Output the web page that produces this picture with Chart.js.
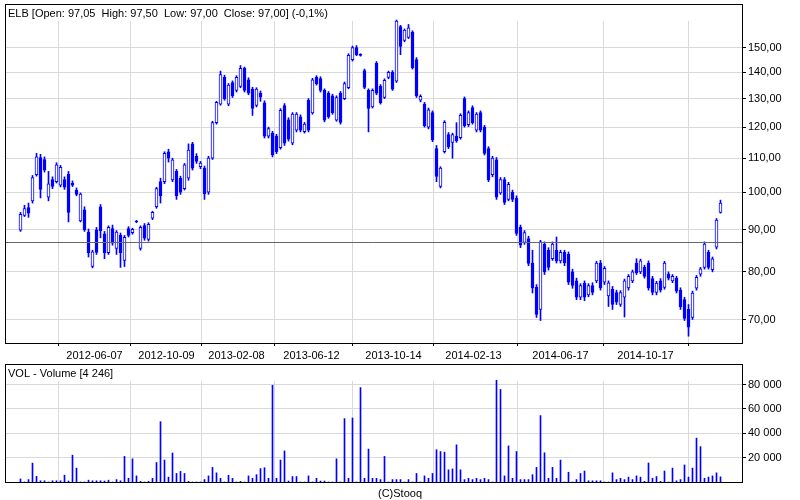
<!DOCTYPE html>
<html>
<head>
<meta charset="utf-8">
<script src="https://cdn.jsdelivr.net/npm/chart.js@4.4.1/dist/chart.umd.min.js"></script>
<style>
  body { margin: 0; background: #fff; }
  #wrap { position: relative; width: 800px; height: 500px; }
  #wrap canvas { position: absolute; left: 0; }
</style>
</head>
<body>
<div id="wrap">
  <canvas id="price" width="800" height="360" style="top:0"></canvas>
  <canvas id="volume" width="800" height="140" style="top:360px"></canvas>
</div>
<script>
// ELB daily candles (one candle ~ every 4 px)
const opens = [
  89.9, 93.7, 95.8, 97.6, 105.0, 110.2, 109.6, 98.6, 103.6, 103.0,
  102.0, 103.6, 105.2, 102.6, 100.6, 92.3, 95.2, 89.4, 81.2, 90.0,
  96.0, 89.0, 84.4, 90.3, 85.4, 88.6, 82.6, 90.3, 89.3, 92.2,
  85.4, 91.1, 87.6, 93.0, 96.0, 103.0, 103.0, 112.0, 103.5, 106.0,
  104.0, 101.0, 104.0, 114.5, 110.6, 107.4, 107.0, 100.0, 110.0, 121.5,
  128.0, 138.0, 128.0, 136.0, 133.0, 134.5, 141.5, 137.0, 133.5, 127.5,
  132.0, 128.5, 117.0, 118.0, 117.0, 113.3, 127.5, 122.5, 114.7, 119.0,
  123.5, 118.5, 129.4, 124.9, 138.0, 137.5, 133.0, 132.0, 131.0, 122.4,
  132.0, 130.0, 134.0, 145.0, 150.0, 147.0, 140.6, 133.0, 127.0, 143.5,
  134.5, 130.4, 137.9, 140.0, 136.5, 159.0, 153.0, 154.3, 156.5, 145.0,
  129.4, 128.0, 120.0, 125.0, 113.0, 101.6, 112.0, 117.5, 115.0, 117.0,
  116.5, 130.0, 120.8, 126.8, 119.0, 125.0, 120.0, 113.0, 105.0, 109.5,
  99.8, 103.6, 98.0, 100.0, 98.3, 90.6, 86.9, 87.8, 82.0, 76.6,
  72.0, 86.5, 85.0, 83.0, 85.0, 82.5, 84.5, 84.0, 80.0, 78.0,
  74.5, 77.5, 75.0, 77.0, 78.0, 82.0, 77.7, 74.8, 76.2, 75.5,
  73.0, 74.5, 76.5, 78.0, 82.0, 80.0, 81.0, 82.0, 78.5, 75.5,
  78.0, 76.6, 79.5, 78.0, 78.6, 76.0, 74.0, 72.0, 70.4, 76.4,
  79.5, 81.0, 84.5, 80.5, 85.7, 94.5
];
const highs = [
  94.5, 96.4, 97.0, 104.8, 111.5, 111.2, 110.4, 106.0, 104.4, 108.6,
  107.8, 104.4, 106.0, 103.2, 101.2, 99.8, 96.0, 90.2, 85.0, 90.6,
  96.6, 89.6, 91.0, 91.2, 89.8, 89.2, 88.6, 90.8, 90.4, 92.4,
  91.0, 91.6, 91.8, 94.8, 101.4, 104.0, 112.0, 112.8, 110.0, 106.6,
  104.6, 108.4, 114.5, 115.0, 111.4, 109.0, 107.6, 110.6, 122.0, 129.0,
  140.4, 138.8, 135.6, 136.6, 138.6, 142.6, 142.0, 137.8, 134.2, 134.0,
  132.8, 129.2, 120.0, 118.6, 117.6, 126.4, 128.2, 123.2, 125.0, 125.0,
  124.2, 121.6, 130.0, 137.6, 138.6, 138.2, 133.6, 132.6, 131.6, 131.0,
  132.6, 136.2, 147.4, 150.6, 150.8, 147.4, 141.2, 133.6, 133.6, 144.2,
  135.2, 137.4, 140.4, 140.6, 162.0, 159.6, 158.0, 160.0, 157.2, 145.8,
  131.4, 128.6, 126.6, 125.6, 114.0, 107.4, 122.2, 118.2, 118.0, 121.5,
  124.6, 130.6, 125.6, 127.4, 125.0, 125.6, 120.6, 113.6, 110.6, 110.2,
  104.2, 104.2, 102.8, 100.6, 99.0, 91.2, 89.8, 88.4, 85.0, 77.2,
  87.4, 87.0, 85.6, 87.0, 88.2, 85.0, 85.0, 84.6, 80.6, 78.6,
  77.4, 78.0, 77.4, 77.6, 82.4, 82.6, 81.2, 78.0, 76.8, 76.0,
  75.9, 78.4, 79.4, 80.4, 83.0, 82.9, 81.5, 82.5, 79.0, 77.9,
  78.5, 82.4, 80.0, 79.4, 79.0, 76.5, 74.5, 73.0, 75.8, 79.2,
  81.0, 87.0, 85.0, 83.4, 92.9, 97.8
];
const lows = [
  89.6, 93.4, 93.2, 97.0, 104.6, 98.4, 105.8, 97.6, 101.0, 102.6,
  101.5, 100.8, 92.0, 101.6, 99.0, 92.0, 89.6, 83.4, 80.9, 84.0,
  88.0, 83.0, 84.0, 86.2, 84.0, 81.0, 81.2, 88.2, 88.9, 91.8,
  85.0, 87.4, 87.2, 92.6, 95.6, 97.0, 102.4, 108.8, 103.0, 98.0,
  99.4, 100.6, 103.4, 106.4, 108.4, 106.8, 98.0, 99.4, 109.6, 121.0,
  127.6, 129.4, 127.4, 130.4, 132.4, 134.0, 132.4, 131.4, 124.0, 127.0,
  129.0, 116.4, 116.4, 110.4, 111.4, 112.8, 114.0, 115.4, 114.2, 118.4,
  118.4, 118.0, 118.4, 124.4, 135.0, 132.4, 121.8, 123.0, 124.4, 122.0,
  121.0, 129.6, 133.6, 144.4, 146.6, 146.4, 133.6, 118.4, 126.6, 131.4,
  128.0, 130.0, 137.4, 133.0, 136.0, 147.0, 152.4, 153.8, 141.2, 130.4,
  128.8, 120.0, 119.4, 115.2, 103.0, 101.2, 111.6, 113.0, 110.0, 115.0,
  116.0, 120.0, 120.2, 121.0, 118.4, 118.4, 111.0, 103.0, 104.4, 98.0,
  99.4, 96.6, 97.6, 97.4, 88.6, 85.6, 86.4, 81.4, 75.4, 70.4,
  69.8, 79.4, 80.4, 82.6, 82.0, 82.0, 81.4, 77.2, 76.4, 74.0,
  74.0, 73.8, 74.6, 75.0, 77.6, 76.0, 77.2, 72.6, 72.0, 73.0,
  72.6, 70.5, 76.0, 77.6, 79.4, 79.6, 78.6, 76.0, 75.0, 75.0,
  75.6, 76.2, 78.2, 77.6, 75.4, 72.0, 69.8, 66.8, 70.0, 76.0,
  79.0, 80.6, 80.6, 80.0, 85.3, 94.3
];
const closes = [
  94.0, 95.5, 94.3, 104.2, 110.4, 100.8, 106.4, 102.4, 101.6, 108.0,
  107.2, 101.4, 94.5, 102.0, 99.4, 99.5, 90.0, 84.4, 84.6, 84.5,
  89.8, 84.4, 90.6, 86.7, 89.4, 84.4, 88.1, 88.6, 90.1, 92.0,
  90.6, 87.9, 91.4, 94.5, 101.0, 99.0, 111.5, 110.0, 109.5, 99.0,
  100.0, 108.0, 112.5, 107.0, 109.0, 108.5, 99.5, 110.0, 121.5, 128.6,
  139.0, 130.0, 135.0, 131.0, 138.0, 141.5, 133.0, 132.0, 126.5, 133.5,
  130.5, 117.0, 119.5, 111.0, 112.0, 125.8, 114.7, 116.0, 124.5, 124.5,
  119.0, 121.0, 119.0, 137.0, 135.5, 133.0, 122.4, 123.5, 125.0, 130.4,
  121.6, 135.6, 146.7, 150.0, 147.0, 146.7, 134.1, 126.5, 133.0, 132.0,
  128.5, 136.8, 139.9, 133.5, 161.5, 150.5, 157.5, 158.5, 141.8, 131.0,
  130.8, 120.5, 126.0, 115.8, 104.5, 107.0, 121.6, 113.5, 117.5, 115.5,
  124.0, 120.5, 125.0, 121.5, 124.5, 119.0, 111.5, 103.5, 110.0, 98.6,
  103.6, 97.2, 102.2, 98.0, 89.1, 86.2, 89.3, 81.9, 76.5, 71.0,
  87.0, 80.0, 81.0, 86.5, 82.5, 84.5, 82.0, 77.7, 77.0, 74.5,
  77.0, 74.5, 77.0, 75.5, 82.0, 76.5, 80.8, 77.6, 73.0, 73.5,
  75.5, 78.0, 79.0, 80.0, 79.8, 82.5, 79.0, 76.5, 75.5, 77.5,
  76.0, 82.0, 78.6, 79.0, 75.8, 72.5, 70.2, 68.5, 75.4, 78.8,
  80.7, 86.5, 81.0, 83.0, 92.5, 97.0
];
const volumes = [
  2500, 0, 2000, 15500, 4700, 1000, 1000, 0, 1000, 1000,
  1000, 5600, 800, 22000, 11400, 0, 0, 1500, 1000, 1000,
  1000, 800, 1500, 0, 2000, 1000, 21000, 3000, 19000, 5000,
  500, 0, 500, 3000, 16000, 49500, 18000, 4000, 23800, 7000,
  8700, 7000, 500, 0, 0, 0, 2000, 5000, 12000, 7500,
  3000, 0, 5500, 3000, 0, 500, 0, 5000, 3000, 6000,
  11000, 11700, 3000, 79400, 3000, 18000, 25500, 800, 4500, 4500,
  0, 0, 5000, 0, 3000, 800, 800, 0, 0, 19000,
  0, 52000, 3000, 52500, 0, 77500, 3000, 27000, 3000, 3000,
  2000, 21000, 0, 2000, 2000, 2000, 0, 2000, 0, 7000,
  0, 5000, 3000, 7000, 26500, 25000, 24500, 10000, 10700, 30500,
  10000, 2000, 3000, 2000, 3000, 2000, 3000, 2000, 0, 83500,
  76000, 5000, 29600, 3000, 25000, 2000, 2000, 2000, 6000, 12000,
  54500, 24000, 3000, 12000, 3000, 18000, 0, 8000, 0, 2000,
  7000, 9000, 1000, 1000, 1000, 1000, 0, 0, 7500, 2000,
  3000, 2000, 4000, 2000, 5000, 4000, 500, 15600, 3000, 4500,
  500, 9000, 0, 11400, 1000, 2000, 14000, 4000, 11400, 36000,
  29000, 3000, 4000, 5000, 7500, 4246
];
const refLevel = 86.85;

const dateTickPos = [0.25, 18.5, 36.5, 54, 72.75, 93.25, 113.25, 135, 156.25];
const dateTickLabels = ['', '2012-06-07', '2012-10-09', '2013-02-08', '2013-06-12',
  '2013-10-14', '2014-02-13', '2014-06-17', '2014-10-17'];
const priceTicks = [70, 80, 90, 100, 110, 120, 130, 140, 150];
const volumeTicks = [20000, 40000, 60000, 80000];

const priceTitle = 'ELB [Open: 97,05  High: 97,50  Low: 97,00  Close: 97,00] (-0,1%)';
const volumeTitle = 'VOL - Volume [4 246]';
const footer = '(C)Stooq';

const BLUE = '#0000ff';
const GRID = '#d9d9d9';
const FONT = '"Liberation Sans", Arial, sans-serif';
const X_MIN = -3.875, X_MAX = 180.375;

Chart.defaults.font.family = FONT;
Chart.defaults.font.size = 11;
Chart.defaults.color = '#000';

// frame round the panel plus its caption row
const panelFrame = {
  id: 'panelFrame',
  afterDraw(chart, args, opts) {
    const { ctx, chartArea: a } = chart;
    ctx.save();
    ctx.strokeStyle = '#000';
    ctx.lineWidth = 1;
    ctx.strokeRect(a.left + 0.5, a.top - 17 + 0.5, a.right - a.left, a.bottom - a.top + 17);
    ctx.fillStyle = '#000';
    ctx.font = '11px ' + FONT;
    ctx.textBaseline = 'top';
    ctx.fillText(opts.text, a.left + 3, a.top - 13);
    if (opts.footer) {
      ctx.textAlign = 'center';
      ctx.fillText(opts.footer, chart.width / 2, a.bottom + 6);
    }
    ctx.restore();
  }
};

const idx = closes.map((_, i) => i);

const xAxis = (height, showLabels) => ({
  type: 'linear',
  min: X_MIN,
  max: X_MAX,
  offset: false,
  bounds: 'data',
  afterBuildTicks: s => { s.ticks = dateTickPos.map(v => ({ value: v })); },
  afterFit: s => { s.height = height; },
  grid: { color: GRID, tickColor: '#000', tickLength: 3, drawTicks: showLabels },
  border: { display: false },
  ticks: {
    display: showLabels,
    autoSkip: false,
    maxRotation: 0,
    minRotation: 0,
    padding: 3,
    callback: (v, i) => dateTickLabels[i]
  }
});

new Chart(document.getElementById('price'), {
  type: 'bar',
  data: {
    datasets: [
      {
        type: 'line',
        data: [{ x: X_MIN, y: refLevel }, { x: X_MAX, y: refLevel }],
        borderColor: '#666666',
        borderWidth: 1,
        pointRadius: 0,
        order: 0
      },
      {
        data: idx.map(i => ({ x: i, y: [opens[i], closes[i]] })),
        backgroundColor: idx.map(i => closes[i] >= opens[i] ? '#ffffff' : BLUE),
        borderColor: BLUE,
        borderWidth: 1,
        borderSkipped: false,
        barThickness: 3,
        minBarLength: 1,
        grouped: false,
        clip: false,
        order: 1
      },
      {
        data: idx.map(i => ({ x: i, y: [lows[i], highs[i]] })),
        backgroundColor: BLUE,
        barThickness: 1,
        grouped: false,
        clip: false,
        order: 2
      }
    ]
  },
  options: {
    responsive: false,
    animation: false,
    events: [],
    layout: { padding: { left: 5, top: 21, right: 0, bottom: 0 } },
    scales: {
      x: xAxis(17, true),
      y: {
        type: 'logarithmic',
        position: 'right',
        min: 65.54,
        max: 161.56,
        bounds: 'data',
        afterBuildTicks: s => { s.ticks = priceTicks.map(v => ({ value: v })); },
        afterFit: s => { s.width = 58; },
        grid: { color: GRID, tickColor: '#000', tickLength: 4 },
        border: { display: false },
        ticks: { padding: 2, callback: v => Number(v).toFixed(2).replace('.', ',') }
      }
    },
    plugins: {
      legend: { display: false },
      tooltip: { enabled: false },
      panelFrame: { text: priceTitle }
    }
  },
  plugins: [panelFrame]
});

new Chart(document.getElementById('volume'), {
  type: 'bar',
  data: {
    datasets: [{
      data: idx.map(i => ({ x: i, y: volumes[i] })),
      backgroundColor: BLUE,
      barThickness: 1,
      clip: false
    }]
  },
  options: {
    responsive: false,
    animation: false,
    events: [],
    layout: { padding: { left: 5, top: 21, right: 0, bottom: 0 } },
    scales: {
      x: xAxis(18, false),
      y: {
        type: 'linear',
        position: 'right',
        min: 0,
        max: 82900,
        afterBuildTicks: s => { s.ticks = volumeTicks.map(v => ({ value: v })); },
        afterFit: s => { s.width = 58; },
        grid: { color: GRID, tickColor: '#000', tickLength: 4 },
        border: { display: false },
        ticks: { padding: 2, callback: v => String(v).replace(/\B(?=(\d{3})+(?!\d))/g, ' ') }
      }
    },
    plugins: {
      legend: { display: false },
      tooltip: { enabled: false },
      panelFrame: { text: volumeTitle, footer: footer }
    }
  },
  plugins: [panelFrame]
});
</script>
</body>
</html>
